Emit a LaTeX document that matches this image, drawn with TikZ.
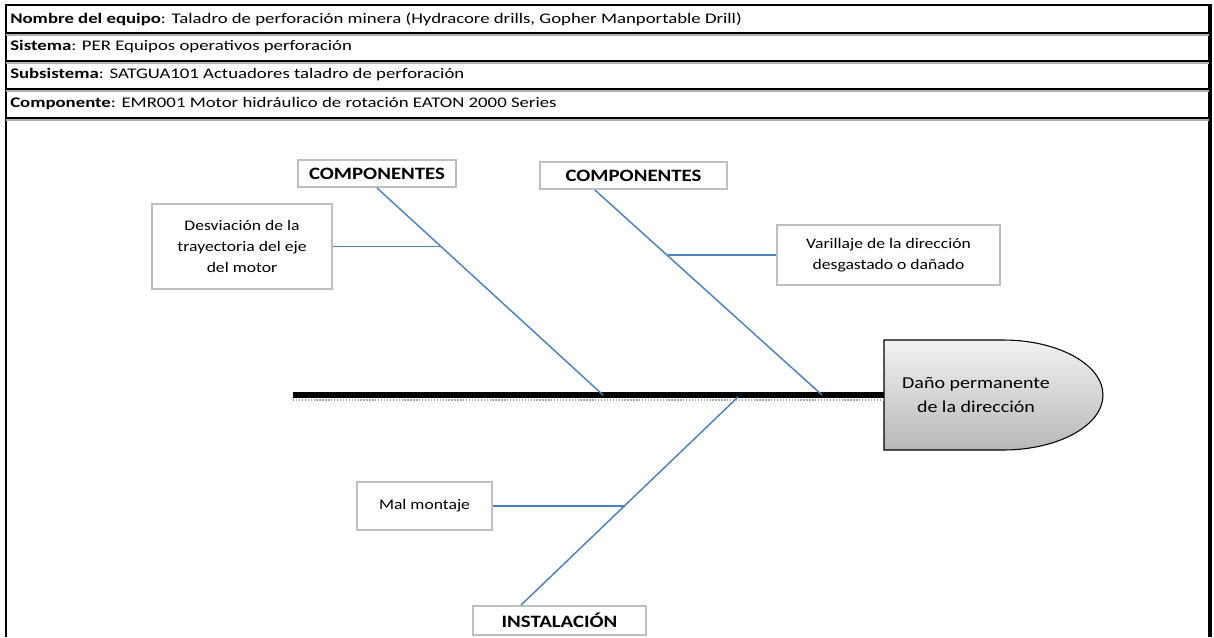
\documentclass[tikz,border=0pt]{standalone}
\usepackage{fontspec}
\setmainfont{Carlito}[FakeStretch=1.2]
\newfontfamily\hdrfont{Carlito}[FakeStretch=1.28]
\usetikzlibrary{calc,positioning}
\definecolor{bonecol}{HTML}{4F81BD}
\definecolor{boxline}{HTML}{BFBFBF}
\definecolor{headtop}{HTML}{F2F2F2}
\definecolor{headbot}{HTML}{B8B8B8}

\begin{document}
\begin{tikzpicture}[x=0.75pt, y=-0.75pt,
    every node/.style={font=\fontsize{10.5}{13}\selectfont},
    hdr/.style={anchor=west, inner sep=0pt, font=\hdrfont\fontsize{11}{13}\selectfont},
    catbox/.style={draw=boxline, line width=1.4pt, fill=white, font=\fontsize{13}{15}\selectfont\bfseries, inner sep=0pt},
    causebox/.style={draw=boxline, line width=1.4pt, fill=white, align=center, font=\fontsize{11}{15.5}\selectfont, inner sep=0pt},
    bone/.style={draw=bonecol, line width=1.1pt}]
    \useasboundingbox (0,0) rectangle (1214,637);

    % Frame and header rows
    \draw[line width=1.2pt] (6,637) -- (6,5) -- (1210,5);
    \draw[line width=2.4pt] (1210,4) -- (1210,637);
    \foreach \yy in {33,61,89,118} {
        \draw[line width=2pt, gray!60] (6,\yy+2) -- (1209,\yy+2);
        \draw[line width=2pt] (6,\yy) -- (1209,\yy);
    }
    \node[hdr] (equipo) at (10,19) {\textbf{Nombre del equipo}: Taladro de perforación minera (Hydracore drills, Gopher Manportable Drill)};
    \node[hdr] (sistema) at (10,47) {\textbf{Sistema}: PER Equipos operativos perforación};
    \node[hdr] (subsis) at (10,75) {\textbf{Subsistema}: SATGUA101 Actuadores taladro de perforación};
    \node[hdr] (compo) at (10,104) {\textbf{Componente}: EMR001 Motor hidráulico de rotación EATON 2000 Series};

    % Head of the fish
    \draw[top color=headtop, bottom color=headbot, draw=black, line width=0.8pt]
        (884,340) -- (1003,340) arc[start angle=90, end angle=-90, x radius=75pt, y radius=41.25pt] -- (884,450) -- cycle;
    \node[align=center, font=\fontsize{12.5}{18}\selectfont] (effect) at (976,395) {Daño permanente\\de la dirección};
    \coordinate (head) at (884,395);
    \coordinate (tail) at (293,395);

    % Spine
    \draw[gray!70, line width=1.5pt, dash pattern=on 1pt off 1.2pt] ($(tail)+(0,5)$) -- ($(head)+(0,5)$);
    \draw[line width=3.8pt] (tail) -- (head);

    % Category boxes
    \node[catbox, minimum width=118.5pt, minimum height=20.25pt] (comp1) at (377,173.5) {COMPONENTES};
    \node[catbox, minimum width=140.25pt, minimum height=20.25pt] (comp2) at (633.5,175.5) {COMPONENTES};
    \node[catbox, minimum width=129.75pt, minimum height=21.75pt] (inst) at (559.5,620.5) {INSTALACIÓN};

    % Cause boxes
    \node[causebox, minimum width=135pt, minimum height=63.75pt] (desv) at (242,246.5) {Desviación de la\\trayectoria del eje\\del motor};
    \node[causebox, minimum width=167.25pt, minimum height=45pt] (vari) at (888.5,255) {Varillaje de la dirección\\desgastado o dañado};
    \node[causebox, minimum width=101.25pt, minimum height=36pt] (mal) at (424.5,506) {Mal montaje};

    % Bones
    \coordinate (sp1) at (603,395);
    \coordinate (sp2) at (822,395);
    \coordinate (sp3) at (738,397);
    \coordinate (c2top) at ($(comp2.south west)!0.295!(comp2.south east)$);
    \coordinate (c3top) at ($(inst.north west)!0.28!(inst.north east)$);
    \draw[bone] (comp1.south) -- (sp1);
    \draw[bone] (c2top) -- (sp2);
    \draw[bone] (sp3) -- (c3top);

    % Sub-bones (joints on the bones)
    \coordinate (j1) at ($(comp1.south)!0.286!(sp1)$);
    \coordinate (j2) at ($(c2top)!0.320!(sp2)$);
    \coordinate (j3) at ($(sp3)!0.5215!(c3top)$);
    \draw[bone, line width=1.3pt] (desv.east) -- (desv.east -| j1);
    \draw[bone, line width=1.6pt] (vari.west) -- (vari.west -| j2);
    \draw[bone] (mal.east) -- (mal.east -| j3);
\end{tikzpicture}
\end{document}
